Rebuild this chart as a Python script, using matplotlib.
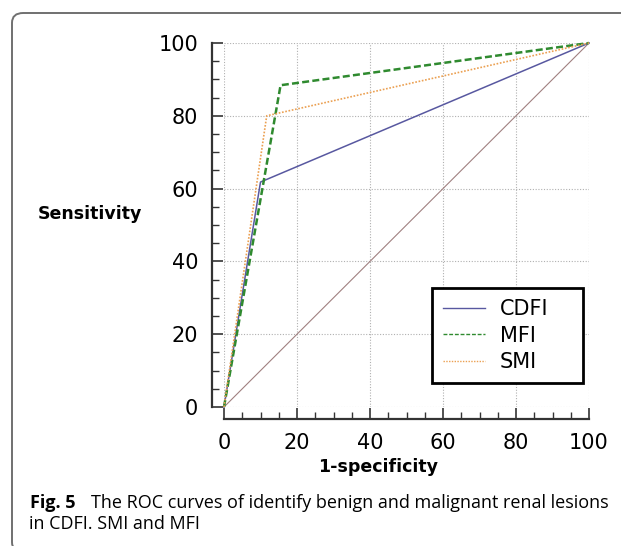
import matplotlib.pyplot as plt
from matplotlib.patches import FancyBboxPatch

# ROC points (1-specificity, sensitivity), in %
cdfi_x = [0, 10.0, 100]
cdfi_y = [0, 61.8, 100]
mfi_x = [0, 15.5, 100]
mfi_y = [0, 88.4, 100]
smi_x = [0, 11.7, 100]
smi_y = [0, 80.0, 100]
ref_x = [0, 100]
ref_y = [0, 100]

ticks = [0, 20, 40, 60, 80, 100]

plt.rcParams['font.family'] = ['DejaVu Sans']

W, H = 621, 546
fig = plt.figure(figsize=(W / 100, H / 100), dpi=100)

# rounded frame around the figure panel
frame = FancyBboxPatch((12 / W, -6 / H), 700 / W, (H - 13 + 6) / H,
                       boxstyle='round,pad=0,rounding_size=0.018',
                       transform=fig.transFigure, fill=False,
                       edgecolor='#707070', linewidth=1.4, clip_on=False)
fig.patches.append(frame)

# axes placed in pixels: x 0..100 -> 224..589, y 0..100 -> 407..43
ax = fig.add_axes([224 / W, 1 - 407 / H, 365 / W, 364 / H])
ax.set_xlim(0, 100)
ax.set_ylim(0, 100)
ax.patch.set_alpha(0)

ax.plot(ref_x, ref_y, color='#a08080', lw=0.8, clip_on=False)
ax.plot(cdfi_x, cdfi_y, color='#5858a0', lw=1.1, label='CDFI', clip_on=False)
ax.plot(mfi_x, mfi_y, color='#2f8a2f', lw=1.8, ls=(0, (2.8, 1.3)), label='MFI', clip_on=False)
ax.plot(smi_x, smi_y, color='#eba052', lw=1.2, ls=(0, (1, 1)), label='SMI', clip_on=False)

ax.grid(True, color='#b0b0b0', linestyle=(0, (1, 1.5)), linewidth=0.8)
ax.set_xticks(ticks)
ax.set_yticks(ticks)
ax.set_xticks(range(0, 101, 5), minor=True)
ax.set_yticks(range(0, 101, 5), minor=True)

for side in ['top', 'right']:
    ax.spines[side].set_visible(False)
for side in ['left', 'bottom']:
    ax.spines[side].set_position(('outward', 8.5))
    ax.spines[side].set_linewidth(1.6)
    ax.spines[side].set_color('#333333')

ax.tick_params(which='major', direction='in', length=8, width=1.2, color='#333333',
               labelsize=15, pad=10)
ax.tick_params(which='minor', direction='in', length=5, width=1.0, color='#333333')

fig.text(38 / W, 1 - 214 / H, 'Sensitivity', fontsize=12.5, fontweight='bold',
         va='center', ha='left')
fig.text(378 / W, 1 - 467 / H, '1-specificity', fontsize=12.5, fontweight='bold',
         va='center', ha='center')

leg = ax.legend(loc='upper left', bbox_to_anchor=(432 / W, 1 - 391 / H, 151 / W, 103 / H),
                bbox_transform=fig.transFigure, mode='expand', fontsize=15,
                frameon=True, fancybox=False, handlelength=2.0, handletextpad=0.7,
                labelspacing=0.3, borderpad=0.55, borderaxespad=0)
leg.get_frame().set_edgecolor('black')
leg.get_frame().set_linewidth(2)
leg.get_frame().set_facecolor('white')
leg.get_frame().set_alpha(1)
for line in leg.get_lines():
    line.set_linewidth(1.0)

cap_font = ['Open Sans', 'DejaVu Sans']
fig.text(30 / W, 1 - 503 / H, 'Fig. 5', fontsize=13, fontweight='bold',
         family=cap_font, va='center', ha='left')
fig.text(91 / W, 1 - 503 / H,
         'The ROC curves of identify benign and malignant renal lesions',
         fontsize=13, family=cap_font, va='center', ha='left')
fig.text(29 / W, 1 - 524 / H, 'in CDFI. SMI and MFI', fontsize=13,
         family=cap_font, va='center', ha='left')

fig.savefig('out.png', dpi=100)
